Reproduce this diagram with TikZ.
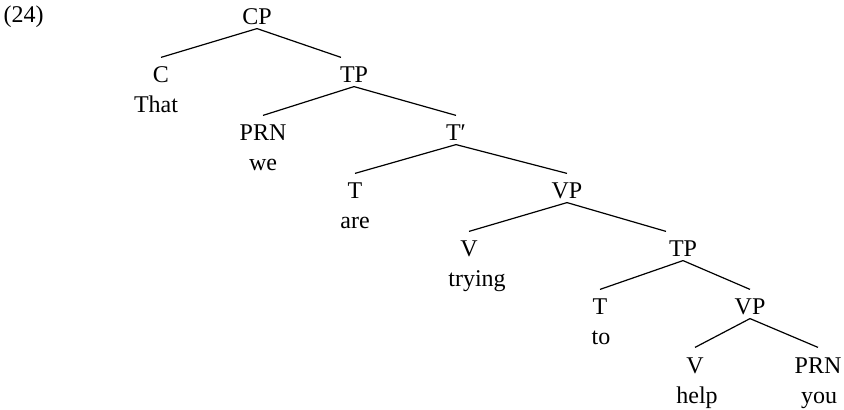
\documentclass[tikz,border=0pt]{standalone}
\usepackage{fontspec}
\setmainfont{Liberation Serif}

\begin{document}
\begin{tikzpicture}[x=0.5pt, y=-0.5pt, line width=0.6pt,
    cat/.style={anchor=base, inner xsep=0pt, inner ysep=1.5pt, text height=11pt, text depth=0pt, font=\fontsize{12}{14}\selectfont},
    word/.style={anchor=base, inner sep=0pt, font=\fontsize{12}{14}\selectfont}]
    \useasboundingbox (0,0) rectangle (844,410);

    % Example number
    \node[word, anchor=base west] (num) at (3,23) {(24)};

    % Categories, one row per level
    \node[cat] (cp) at (257,25) {CP};
    \node[cat] (c) at (161,83) {C};
    \node[cat] (tp1) at (354,83) {TP};
    \node[cat] (prn1) at (263,141) {PRN};
    \node[cat] (tbar) at (456,141) {T′};
    \node[cat] (t1) at (355,199) {T};
    \node[cat] (vp1) at (567,199) {VP};
    \node[cat] (v1) at (469,257) {V};
    \node[cat] (tp2) at (683,257) {TP};
    \node[cat] (t2) at (600,315) {T};
    \node[cat] (vp2) at (750,315) {VP};
    \node[cat] (v2) at (695,373) {V};
    \node[cat] (prn2) at (818,373) {PRN};

    % Words under the heads
    \node[word] (that) at (156,113) {That};
    \node[word] (we) at (263,171) {we};
    \node[word] (are) at (355,229) {are};
    \node[word] (trying) at (477,287) {trying};
    \node[word] (to) at (601,345) {to};
    \node[word] (help) at (697,403) {help};
    \node[word] (you) at (819,403) {you};

    % Branches
    \draw (cp.south) -- (c.north);
    \draw (cp.south) -- ([xshift=-6.5pt]tp1.north);
    \draw (tp1.south) -- (prn1.north);
    \draw (tp1.south) -- (tbar.north);
    \draw (tbar.south) -- (t1.north);
    \draw (tbar.south) -- (vp1.north);
    \draw (vp1.south) -- (v1.north);
    \draw (vp1.south) -- ([xshift=-8.5pt]tp2.north);
    \draw (tp2.south) -- (t2.north);
    \draw (tp2.south) -- (vp2.north);
    \draw (vp2.south) -- (v2.north);
    \draw (vp2.south) -- (prn2.north);

\end{tikzpicture}
\end{document}
